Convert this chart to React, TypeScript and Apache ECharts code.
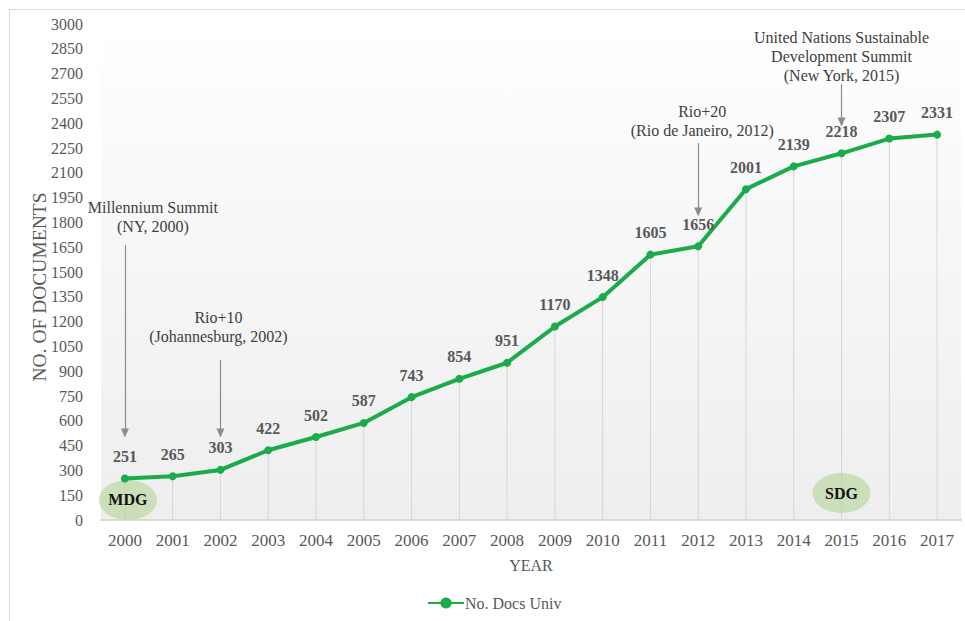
import React, { useEffect, useRef } from "react";
import * as echarts from "echarts";

const years = ["2000","2001","2002","2003","2004","2005","2006","2007","2008","2009","2010","2011","2012","2013","2014","2015","2016","2017"];
const docs = [251,265,303,422,502,587,743,854,951,1170,1348,1605,1656,2001,2139,2218,2307,2331];

const annotationTexts = [
  { year: "2000", value: 1833, text: "Millennium Summit\n(NY, 2000)", dx: 28 },
  { year: "2002", value: 1167, text: "Rio+10\n(Johannesburg, 2002)", dx: -2 },
  { year: "2012", value: 2413, text: "Rio+20\n(Rio de Janeiro, 2012)", dx: 4 },
  { year: "2015", value: 2806, text: "United Nations Sustainable\nDevelopment Summit\n(New York, 2015)", dx: 0 },
];
const arrows = [
  { year: "2000", from: 1663, to: 526 },
  { year: "2002", from: 968, to: 526 },
  { year: "2012", from: 2280, to: 1863 },
  { year: "2015", from: 2637, to: 2407 },
];
const goals = [
  { year: "2000", value: 121, text: "MDG", dx: 3 },
  { year: "2015", value: 163, text: "SDG", dx: 0 },
];

const FONT = "'Liberation Serif', 'Times New Roman', serif";

export default function App() {
  const ref = useRef<HTMLDivElement>(null);
  useEffect(() => {
    document.body.style.margin = "0";
    const chart = echarts.init(ref.current!, null, { renderer: "svg" });
    chart.setOption({
      animation: false,
      textStyle: { fontFamily: FONT },
      graphic: [
        {
          type: "rect",
          shape: { x: 9.5, y: 9.5, width: 980, height: 640 },
          style: { fill: "none", stroke: "#d9d9d9", lineWidth: 1 },
          silent: true,
        },
      ],
      grid: {
        left: 101,
        right: 4,
        top: 24,
        bottom: 101,
        show: true,
        borderWidth: 0,
        backgroundColor: new echarts.graphic.LinearGradient(0, 0, 0, 1, [
          { offset: 0, color: "#ffffff" },
          { offset: 0.3, color: "#f9f9f9" },
          { offset: 1, color: "#eeeeee" },
        ]),
      },
      legend: {
        data: ["No. Docs Univ"],
        bottom: 5,
        left: 422,
        itemWidth: 36,
        itemHeight: 14,
        itemGap: 2,
        textStyle: { fontFamily: FONT, fontSize: 16, color: "#595959", padding: [0, 0, 0, -4] },
      },
      xAxis: {
        type: "category",
        data: years,
        name: "YEAR",
        nameLocation: "middle",
        nameGap: 37,
        nameTextStyle: { fontFamily: FONT, fontSize: 16, color: "#595959" },
        axisLine: { lineStyle: { color: "#d9d9d9", width: 2 } },
        axisTick: { show: false },
        axisLabel: { fontFamily: FONT, fontSize: 17, color: "#595959", margin: 12 },
      },
      yAxis: {
        type: "value",
        min: 0,
        max: 3000,
        interval: 150,
        name: "NO. OF DOCUMENTS",
        nameLocation: "middle",
        nameGap: 52,
        nameMoveOverlap: false,
        nameTextStyle: { fontFamily: FONT, fontSize: 19.5, color: "#595959", padding: [0, 0, 0, -30] },
        axisLine: { show: false },
        axisTick: { show: false },
        splitLine: { show: false },
        axisLabel: {
          fontFamily: FONT,
          fontSize: 16,
          color: "#595959",
          margin: 18,
          formatter: (v: number) => String(v),
        },
      },
      series: [
        {
          name: "drop",
          type: "bar",
          data: docs,
          barWidth: 1,
          silent: true,
          itemStyle: { color: "#d6d6d6" },
          z: 1,
          markPoint: {
            silent: true,
            symbol: "circle",
            symbolSize: [58, 40],
            itemStyle: { color: "rgba(178, 214, 150, 0.6)" },
            label: {
              show: true,
              position: "inside",
              fontFamily: FONT,
              fontSize: 16,
              fontWeight: "bold",
              color: "#111111",
            },
            data: goals.map((g) => ({
              coord: [g.year, g.value],
              symbolOffset: [g.dx, 0],
              label: { formatter: g.text },
            })),
          },
          markLine: {
            silent: true,
            symbol: ["none", "triangle"],
            symbolSize: [8, 9],
            label: { show: false },
            lineStyle: { color: "#8c8c8c", width: 1.2, type: "solid" },
            data: arrows.map((a) => [
              { coord: [a.year, a.from] },
              { coord: [a.year, a.to] },
            ]),
          },
        },
        {
          name: "No. Docs Univ",
          type: "line",
          data: docs,
          z: 5,
          symbol: "circle",
          symbolSize: 8,
          lineStyle: { color: "#1aab4b", width: 4 },
          itemStyle: { color: "#1aab4b" },
          label: {
            show: true,
            position: "top",
            distance: 10,
            fontFamily: FONT,
            fontSize: 16,
            fontWeight: "bold",
            color: "#595959",
          },
          markPoint: {
            silent: true,
            symbol: "circle",
            symbolSize: 1,
            itemStyle: { color: "rgba(0,0,0,0)" },
            label: {
              show: true,
              position: "inside",
              fontFamily: FONT,
              fontSize: 16,
              lineHeight: 19,
              color: "#404040",
              align: "center",
            },
            data: annotationTexts.map((t) => ({
              coord: [t.year, t.value],
              symbolOffset: [t.dx, 0],
              label: { formatter: t.text },
            })),
          },
        },
      ],
    });
    return () => chart.dispose();
  }, []);
  return <div ref={ref} style={{ width: 965, height: 621 }} />;
}
